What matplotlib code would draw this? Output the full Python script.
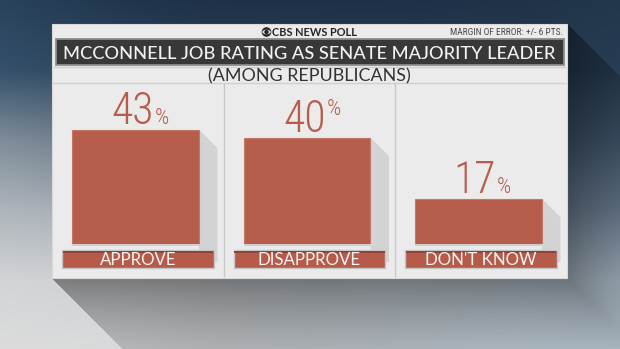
import numpy as np
import matplotlib
matplotlib.use('Agg')
import matplotlib.pyplot as plt
from matplotlib import font_manager, colors as mcolors
from matplotlib.patches import Rectangle, Polygon, Circle, Ellipse
from matplotlib.textpath import TextPath
from matplotlib.font_manager import FontProperties

# ---------------- data ----------------
categories = ['APPROVE', 'DISAPPROVE', "DON'T KNOW"]
values = [43, 40, 17]
value_labels = ['43', '40', '17']
pct_superscript = [False, True, False]
title = 'MCCONNELL JOB RATING AS SENATE MAJORITY LEADER'
subtitle = '(AMONG REPUBLICANS)'
brand = 'CBS NEWS POLL'
margin_note = 'MARGIN OF ERROR: +/- 6 PTS.'

# ---------------- fonts ----------------
avail = {f.name for f in font_manager.fontManager.ttflist}
def pick(*names):
    for n in names:
        if n in avail:
            return n
    return 'DejaVu Sans'
NARROW = pick('Roboto Condensed', 'Liberation Sans Narrow', 'Roboto', 'Liberation Sans')
SANS = pick('Lato', 'Open Sans', 'Roboto')

W, H, DPI = 620, 349, 100
PT = 72.0 / DPI
fig = plt.figure(figsize=(W / DPI, H / DPI), dpi=DPI)
bg = fig.add_axes([0, 0, 1, 1])
bg.axis('off')

# ---------------- background (cloudy gradient) ----------------
gx = [0, 103, 207, 310, 413, 517, 620]
gy = [0, 70, 140, 210, 280, 349]
gcols = [
    ['#29435c', '#22384f', '#1e3148', '#1d3047', '#1d3047', '#1f3248', '#22364c'],
    ['#34506a', '#2e475f', '#2a4158', '#2a4158', '#293f56', '#263b51', '#283d53'],
    ['#7f8d9a', '#6c7b89', '#56687a', '#4d6072', '#4a5e72', '#455b70', '#435a70'],
    ['#aeb5bb', '#a6adb4', '#8e99a3', '#7f8c98', '#7a8998', '#75879a', '#71859a'],
    ['#d2d4d6', '#cfd1d3', '#c6cacd', '#c0c7cd', '#bec8d0', '#bac7d2', '#b2c2d0'],
    ['#dcdcdc', '#dadbdc', '#d0d3d5', '#ccd2d7', '#ccd5dc', '#cbd8e2', '#c8d7e3'],
]
garr = np.array([[mcolors.to_rgb(c) for c in row] for row in gcols])
X = np.arange(W) + 0.5
Y = np.arange(H) + 0.5
tmp = np.empty((len(gy), W, 3))
for r in range(len(gy)):
    for k in range(3):
        tmp[r, :, k] = np.interp(X, gx, garr[r, :, k])
img = np.empty((H, W, 3))
for c in range(W):
    for k in range(3):
        img[:, c, k] = np.interp(Y, gy, tmp[:, c, k])
bg.imshow(img, extent=(0, W, H, 0), aspect='auto', zorder=0, interpolation='bilinear')

# panel geometry (pixels)
PX0, PY0, PX1, PY1 = 52, 24, 567, 278

# cast shadow of panel (45 degrees, down-right), fading
xx, yy = np.meshgrid(X, Y)
t = np.maximum(np.maximum(0, xx - PX1), yy - PY1)
valid = t <= np.minimum(xx - PX0, yy - PY0)
alpha = np.where(valid, 0.42 * np.exp(-t / 75.0), 0.0)
sh = np.zeros((H, W, 4))
sh[..., 3] = alpha
bg.imshow(sh, extent=(0, W, H, 0), aspect='auto', zorder=1, interpolation='bilinear')
bg.set_xlim(0, W)
bg.set_ylim(H, 0)

# panel
bg.add_patch(Rectangle((PX0, PY0), PX1 - PX0, PY1 - PY0, fc='#ebebeb', ec='#d9d9d9', lw=0.8, zorder=2))
# title bar
bg.add_patch(Rectangle((56, 39), 508, 26, fc='#383838', ec='#8c8c8c', lw=1.3, zorder=3))
bg.hlines([66.5, 83.2], 53, 566, colors='#d0d0d0', lw=1.0, zorder=3)
bg.vlines([223.5, 394.5], 83.2, PY1 - 1, colors='#c8c8c8', lw=1.0, zorder=3)

# brand with eye logo
ex, ey = 266.5, 32.0
bg.add_patch(Circle((ex, ey), 4.8, fc='#262626', ec='none', zorder=4))
bg.add_patch(Ellipse((ex, ey), 8.2, 4.6, fc='#ebebeb', ec='none', zorder=4.1))
bg.add_patch(Circle((ex, ey), 2.2, fc='#262626', ec='none', zorder=4.2))
t_brand = bg.text(272, 36.3, brand, ha='left', va='baseline', fontsize=8, color='#262626',
                  family=SANS, weight='bold', zorder=5)
t_margin = bg.text(563, 35.2, margin_note, ha='right', va='baseline', fontsize=7, color='#4a4a4a',
                   family=NARROW, zorder=5)
t_title = bg.text(309, 59.2, title, ha='center', va='baseline', fontsize=13, color='#f2f2f2',
                  family=SANS, weight='medium', zorder=5)
t_sub = bg.text(309.5, 81.6, subtitle, ha='center', va='baseline', fontsize=12, color='#333333',
                family=SANS, zorder=5)

# ---------------- bars ----------------
ax = fig.add_axes([49.75 / W, 105 / H, 514.5 / W, 133 / H])
ax.set_xlim(-0.5, 2.5)
ax.set_ylim(0, 50)
ax.axis('off')
ax.patch.set_alpha(0)
x = np.arange(len(categories))
bars = ax.bar(x, values, width=0.74, color='#b75d4b', edgecolor='#c4786a', lw=0.8, zorder=3)

inv = bg.transData.inverted()
label_texts = []
for i, b in enumerate(bars):
    (l, top) = inv.transform(ax.transData.transform((b.get_x(), b.get_height())))
    (r, bot) = inv.transform(ax.transData.transform((b.get_x() + b.get_width(), 0)))
    # side shadow of the bar
    bg.add_patch(Polygon([(r, top), (r + 18.5, top + 18.5), (r + 18.5, 262), (r, 262)],
                         closed=True, fc='#d3d3d3', ec='none', zorder=2.5))
    bg.add_patch(Rectangle((l, bot), r - l, 2.0, fc='#cfcfcf', ec='none', zorder=2.6))
    # label bar
    ll, lr = l - 10, r + 15
    bg.add_patch(Rectangle((ll, 250), lr - ll, 18, fc='#b65b49', ec='#c6c6c6', lw=1.0, zorder=4))
    bg.add_patch(Rectangle((ll + 0.5, 250.5), lr - ll - 1, 2.0, fc='#8f4437', ec='none', zorder=4.5))
    label_texts.append(bg.text((ll + lr) / 2, 265.2, categories[i], ha='center', va='baseline',
                               fontsize=12, color='#f4f4f4', family=SANS, zorder=5))

# ---------------- value labels sized by ink ----------------
num_color = '#b85c4a'
nprop = FontProperties(family=NARROW, weight='light')
ref_ext = TextPath((0, 0), '43', size=1, prop=nprop).get_extents()
digit_px = 31.5 / ref_ext.y1          # font size in px giving 31.5 px tall digits
pct_ext1 = TextPath((0, 0), '%', size=1, prop=nprop).get_extents()
pct_px = 16.0 / pct_ext1.y1
for i, v in enumerate(values):
    de = TextPath((0, 0), value_labels[i], size=1, prop=nprop).get_extents()
    ink_w = (de.x1 - de.x0) * digit_px
    ink_left = -3.0 - ink_w / 2            # ink centred 3 px left of bar centre
    x_text = ink_left - de.x0 * digit_px
    ax.annotate(value_labels[i], xy=(x[i], v), xytext=(x_text * PT, 5.5 * PT), textcoords='offset points',
                ha='left', va='baseline', fontsize=digit_px * PT, color=num_color, family=NARROW,
                weight='light', annotation_clip=False, zorder=5)
    pe = pct_ext1
    p_left = ink_left + ink_w + 4.5
    x_pct = p_left - pe.x0 * pct_px
    dy = 22.5 if pct_superscript[i] else 5.5
    ax.annotate('%', xy=(x[i], v), xytext=(x_pct * PT, dy * PT),
                textcoords='offset points', ha='left', va='baseline', fontsize=pct_px * PT,
                color=num_color, family=NARROW, weight='light', annotation_clip=False, zorder=5)

# ---------------- fit text widths ----------------
fig.canvas.draw()
rend = fig.canvas.get_renderer()
def fit(txt, target):
    w = txt.get_window_extent(rend).width
    txt.set_fontsize(txt.get_fontsize() * target / w)
fit(t_title, 492)
fit(t_sub, 201)
fit(t_brand, 85)
fit(t_margin, 113)
w0 = label_texts[0].get_window_extent(rend).width
fs = label_texts[0].get_fontsize() * 77 / w0
for tx in label_texts:
    tx.set_fontsize(fs)

fig.savefig('out.png', dpi=DPI)
